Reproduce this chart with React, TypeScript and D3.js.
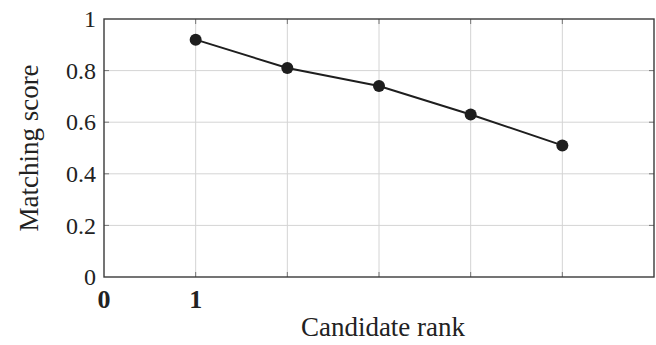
import React, { useEffect, useRef } from 'react'
import { select, scaleLinear, line } from 'd3'

// candidate rank vs matching score
const ranks = [1, 2, 3, 4, 5]
const scores = [0.92, 0.81, 0.74, 0.63, 0.51]
const yTicks = [0, 0.2, 0.4, 0.6, 0.8, 1]
const yTickLabels = ['0', '0.2', '0.4', '0.6', '0.8', '1']
const xGrid = [1, 2, 3, 4, 5]
const xTickValues = [0, 1]
const xTickLabels = ['0', '1']

export default function App() {
    const chart = useRef<SVGSVGElement>(null)

    const width = 656
    const height = 345
    const margin = { top: 19, right: 2, bottom: 68, left: 104 }
    const font = "'Liberation Serif', 'DejaVu Serif', serif"

    useEffect(() => {
        const svg = select(chart.current)
        svg.selectAll('*').remove()

        const x = scaleLinear().domain([0, 6]).range([margin.left, width - margin.right])
        const y = scaleLinear().domain([0, 1]).range([height - margin.bottom, margin.top])

        const left = x(0), right = x(6), top = y(1), bottom = y(0)

        // grid
        const grid = svg.append('g').attr('stroke', '#d4d4d4').attr('stroke-width', 1)
        xGrid.forEach(v => {
            grid.append('line').attr('x1', x(v)).attr('x2', x(v)).attr('y1', top).attr('y2', bottom)
        })
        yTicks.slice(1, -1).forEach(v => {
            grid.append('line').attr('x1', left).attr('x2', right).attr('y1', y(v)).attr('y2', y(v))
        })

        // inner tick marks on every side
        const ticks = svg.append('g').attr('stroke', '#777').attr('stroke-width', 1)
        const tl = 5
        xGrid.forEach(v => {
            ticks.append('line').attr('x1', x(v)).attr('x2', x(v)).attr('y1', bottom).attr('y2', bottom - tl)
            ticks.append('line').attr('x1', x(v)).attr('x2', x(v)).attr('y1', top).attr('y2', top + tl)
        })
        yTicks.slice(1, -1).forEach(v => {
            ticks.append('line').attr('x1', left).attr('x2', left + tl).attr('y1', y(v)).attr('y2', y(v))
            ticks.append('line').attr('x1', right).attr('x2', right - tl).attr('y1', y(v)).attr('y2', y(v))
        })

        // frame
        svg.append('rect')
            .attr('x', left).attr('y', top)
            .attr('width', right - left).attr('height', bottom - top)
            .attr('fill', 'none').attr('stroke', '#3a3a3a').attr('stroke-width', 1.4)

        // y tick labels
        svg.append('g').selectAll('text').data(yTicks).join('text')
            .attr('x', left - 8)
            .attr('y', d => y(d))
            .attr('dy', '0.34em')
            .attr('text-anchor', 'end')
            .style('font-family', font)
            .attr('font-size', 24)
            .attr('fill', '#222')
            .text((d, i) => yTickLabels[i])

        // x tick labels
        svg.append('g').selectAll('text').data(xTickValues).join('text')
            .attr('x', d => x(d))
            .attr('y', bottom + 31)
            .attr('text-anchor', 'middle')
            .style('font-family', font)
            .attr('font-weight', 'bold')
            .attr('font-size', 26)
            .attr('fill', '#222')
            .text((d, i) => xTickLabels[i])

        // axis labels
        svg.append('text')
            .attr('x', (left + right) / 2 + 4)
            .attr('y', 336)
            .attr('text-anchor', 'middle')
            .style('font-family', font)
            .attr('font-size', 27)
            .attr('fill', '#222')
            .text('Candidate rank')

        svg.append('text')
            .attr('transform', `translate(38,${(top + bottom) / 2}) rotate(-90)`)
            .attr('text-anchor', 'middle')
            .style('font-family', font)
            .attr('font-size', 27)
            .attr('fill', '#222')
            .text('Matching score')

        // series
        const pts = ranks.map((r, i) => ({ r, s: scores[i] }))
        const getLine = line<{ r: number, s: number }>().x(d => x(d.r)).y(d => y(d.s))

        svg.append('path')
            .datum(pts)
            .attr('fill', 'none')
            .attr('stroke', '#1e1e1e')
            .attr('stroke-width', 2)
            .attr('d', getLine)

        svg.append('g').selectAll('circle').data(pts).join('circle')
            .attr('cx', d => x(d.r))
            .attr('cy', d => y(d.s))
            .attr('r', 6)
            .attr('fill', '#1e1e1e')
    }, [])

    return (
        <svg ref={chart} width={width} height={height}
            style={{ position: 'absolute', left: 0, top: 0, background: '#fff' }} />
    )
}
